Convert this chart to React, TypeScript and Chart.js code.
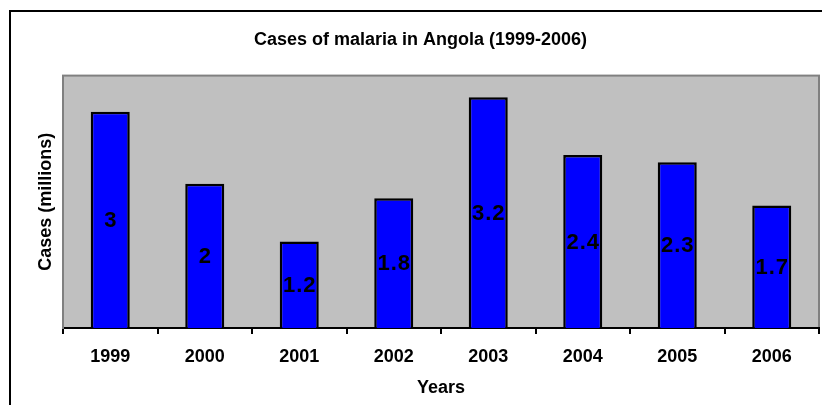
import React, { useEffect, useRef } from "react";
import { Chart, registerables } from "chart.js";

Chart.register(...registerables);

const years = ["1999", "2000", "2001", "2002", "2003", "2004", "2005", "2006"];
const cases = [3, 2, 1.2, 1.8, 3.2, 2.4, 2.3, 1.7];
const titleText = "Cases of malaria in Angola (1999-2006)";
const xTitle = "Years";
const yTitle = "Cases (millions)";

const FONT = "'Liberation Sans', Arial, sans-serif";

const framePlugin = {
  id: "frame",
  beforeDraw(chart: any) {
    const { ctx, chartArea } = chart;
    ctx.save();
    ctx.fillStyle = "#ffffff";
    ctx.fillRect(0, 0, chart.width, chart.height);
    ctx.strokeStyle = "#000000";
    ctx.lineWidth = 2;
    ctx.strokeRect(10, 11, 1200, 1200);
    const { left, top, right, bottom } = chartArea;
    ctx.fillStyle = "#C0C0C0";
    ctx.fillRect(left, top, right - left, bottom - top);
    ctx.strokeStyle = "#808080";
    ctx.lineWidth = 2;
    ctx.strokeRect(left, top, right - left, bottom - top);
    ctx.restore();
  },
};

const labelPlugin = {
  id: "barLabels",
  afterDatasetsDraw(chart: any) {
    const { ctx } = chart;
    const meta = chart.getDatasetMeta(0);
    const data = chart.data.datasets[0].data as number[];
    ctx.save();
    ctx.font = `bold 22px ${FONT}`;
    try {
      (ctx as any).letterSpacing = "1px";
    } catch (e) {}
    ctx.fillStyle = "#000000";
    ctx.textAlign = "center";
    ctx.textBaseline = "middle";
    meta.data.forEach((bar: any, i: number) => {
      ctx.fillText(String(data[i]), bar.x + 0.5, (bar.y + bar.base) / 2 + 1);
    });
    ctx.restore();
  },
};

export default function App() {
  const ref = useRef<HTMLCanvasElement | null>(null);
  useEffect(() => {
    if (!ref.current) return;
    Chart.defaults.font.family = FONT;
    const chart = new Chart(ref.current, {
      type: "bar",
      data: {
        labels: years,
        datasets: [
          {
            data: cases,
            backgroundColor: "#0000FF",
            borderColor: "#000000",
            borderWidth: 2.5,
            categoryPercentage: 1,
            barPercentage: 0.413,
          },
        ],
      },
      options: {
        responsive: false,
        animation: false,
        devicePixelRatio: 1,
        layout: { padding: { left: 22, right: 3, top: 0, bottom: 0 } },
        plugins: {
          legend: { display: false },
          tooltip: { enabled: false },
          title: {
            display: true,
            text: titleText,
            color: "#000000",
            font: { size: 18, weight: "bold", family: FONT },
            padding: { top: 29, bottom: 25 },
          },
        },
        scales: {
          x: {
            afterFit(scale: any) {
              scale.height = 77;
            },
            grid: {
              display: true,
              drawOnChartArea: false,
              drawTicks: true,
              tickLength: 6,
              color: "#000000",
              lineWidth: 2,
              offset: true,
            },
            border: { display: true, color: "#000000", width: 2 },
            ticks: {
              color: "#000000",
              font: { size: 18, weight: "bold", family: FONT },
              padding: 12,
              maxRotation: 0,
            },
            title: {
              display: true,
              text: xTitle,
              color: "#000000",
              font: { size: 18, weight: "bold", family: FONT },
              padding: { top: 0, bottom: 6 },
            },
          },
          y: {
            min: 0,
            max: 3.5,
            afterFit(scale: any) {
              scale.width = 41;
            },
            grid: { display: false },
            border: { display: true, color: "#808080", width: 2 },
            ticks: { display: false },
            title: {
              display: true,
              text: yTitle,
              color: "#000000",
              font: { size: 18, weight: "bold", family: FONT },
              padding: { top: 13, bottom: 0 },
            },
          },
        },
      },
      plugins: [framePlugin, labelPlugin],
    });
    return () => chart.destroy();
  }, []);
  return (
    <div style={{ position: "absolute", left: 0, top: 0, width: 822, height: 405 }}>
      <canvas ref={ref} width={822} height={405} style={{ display: "block" }} />
    </div>
  );
}
